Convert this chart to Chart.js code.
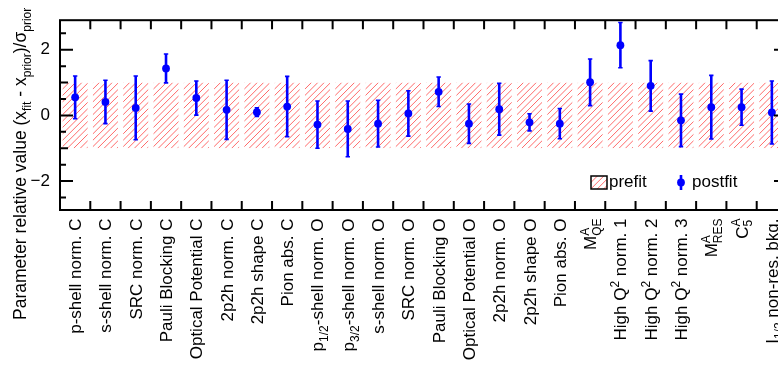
<!DOCTYPE html>
<html><head><meta charset="utf-8">
<style>
html,body{margin:0;padding:0;overflow:hidden;background:#fff;width:778px;height:366px}
#wrap{width:800px;height:366px;position:relative}
canvas{display:block}
</style>
<script src="https://cdn.jsdelivr.net/npm/chart.js@4.4.1/dist/chart.umd.min.js"></script>
</head><body><div id="wrap"><canvas id="c" width="800" height="366"></canvas></div>
<script>
// ---------- data ----------
const categories = [
  'p-shell norm. C', 's-shell norm. C', 'SRC norm. C', 'Pauli Blocking C',
  'Optical Potential C', '2p2h norm. C', '2p2h shape C', 'Pion abs. C',
  'p_{1/2}-shell norm. O', 'p_{3/2}-shell norm. O', 's-shell norm. O', 'SRC norm. O',
  'Pauli Blocking O', 'Optical Potential O', '2p2h norm. O', '2p2h shape O',
  'Pion abs. O', 'M^{A}_{QE}', 'High Q^{2} norm. 1', 'High Q^{2} norm. 2',
  'High Q^{2} norm. 3', 'M^{A}_{RES}', 'C^{A}_{5}', 'I_{1/2} non-res. bkg.'
];
const prefitCentral = [0,0,0,0,0,0,0,0,0,0,0,0,0,0,0,0,0,0,0,0,0,0,0,0];
const prefitError   = [1,1,1,1,1,1,1,1,1,1,1,1,1,1,1,1,1,1,1,1,1,1,1,1];
const postfitValue = [0.55, 0.41, 0.23, 1.43, 0.53, 0.17, 0.10, 0.27,
                      -0.28, -0.41, -0.25, 0.06, 0.72, -0.25, 0.19, -0.21,
                      -0.25, 1.01, 2.14, 0.90, -0.15, 0.25, 0.25, 0.09];
const postfitError = [0.65, 0.66, 0.97, 0.44, 0.52, 0.90, 0.13, 0.92,
                      0.72, 0.85, 0.71, 0.69, 0.45, 0.60, 0.79, 0.26,
                      0.46, 0.71, 0.69, 0.77, 0.80, 0.97, 0.55, 0.96];
const yTickValues = [-2, 0, 2];
const yMinorTicks = [-2.5, -2, -1.5, -1, -0.5, 0, 0.5, 1, 1.5, 2, 2.5];
const legendLabels = ['prefit', 'postfit'];
const yAxisTitle = 'Parameter relative value (x_{fit} - x_{prior})/\u03c3_{prior}';

// ---------- helpers ----------
const FONT = '"Liberation Sans", Arial, Helvetica, sans-serif';
const BLUE = '#0000ff';
const HATCH = '#ff6a6a';

function parseMarkup(s) {
  const toks = []; let buf = '';
  for (let i = 0; i < s.length; i++) {
    const ch = s[i];
    if ((ch === '_' || ch === '^') && s[i + 1] === '{') {
      if (buf) { toks.push({text: buf, type: 'n'}); buf = ''; }
      const end = s.indexOf('}', i + 2);
      toks.push({text: s.slice(i + 2, end), type: ch === '_' ? 'sub' : 'sup'});
      i = end;
    } else buf += ch;
  }
  if (buf) toks.push({text: buf, type: 'n'});
  return toks;
}
function layoutRich(ctx, s, size) {
  const toks = parseMarkup(s);
  const items = []; let x = 0;
  const small = Math.round(size * 0.7);
  const dyOf = t => t === 'sup' ? -size * 0.42 : size * 0.28;
  for (let i = 0; i < toks.length; i++) {
    const t = toks[i];
    if (t.type === 'n') {
      const f = size + 'px ' + FONT; ctx.font = f;
      items.push({text: t.text, x, dy: 0, font: f});
      x += ctx.measureText(t.text).width;
    } else {
      const f = small + 'px ' + FONT; ctx.font = f;
      let w = ctx.measureText(t.text).width;
      items.push({text: t.text, x, dy: dyOf(t.type), font: f});
      const nx = toks[i + 1];
      if (nx && nx.type !== 'n' && nx.type !== t.type) {
        w = Math.max(w, ctx.measureText(nx.text).width);
        items.push({text: nx.text, x, dy: dyOf(nx.type), font: f});
        i++;
      }
      x += w;
    }
  }
  return {items, width: x};
}
function drawRotated(ctx, lay, px, py, startX, baseY) {
  ctx.save();
  ctx.translate(px, py);
  ctx.rotate(-Math.PI / 2);
  ctx.textAlign = 'left'; ctx.textBaseline = 'alphabetic';
  ctx.fillStyle = '#000';
  for (const it of lay.items) { ctx.font = it.font; ctx.fillText(it.text, startX + it.x, baseY + it.dy); }
  ctx.restore();
}
function hatchRect(ctx, x, y, w, h) {
  ctx.save();
  ctx.beginPath(); ctx.rect(x, y, w, h); ctx.clip();
  ctx.strokeStyle = HATCH; ctx.lineWidth = 1;
  const step = 6.4;
  ctx.beginPath();
  for (let k = -h; k < w + step; k += step) {
    ctx.moveTo(x + k, y + h); ctx.lineTo(x + k + h, y);
  }
  ctx.stroke();
  ctx.restore();
}

const decor = {
  id: 'decor',
  afterDatasetDraw(chart, args) {
    if (args.index !== 0) return;
    const ctx = chart.ctx;
    chart.getDatasetMeta(0).data.forEach(bar => {
      const p = bar.getProps(['x', 'y', 'base', 'width'], true);
      const top = Math.min(p.y, p.base), h = Math.abs(p.base - p.y);
      hatchRect(ctx, p.x - p.width / 2, top, p.width, h);
    });
  },
  beforeDatasetDraw(chart, args) {
    if (args.index !== 1) return;
    const ctx = chart.ctx, xs = chart.scales.x, ys = chart.scales.y;
    ctx.save();
    ctx.strokeStyle = BLUE;
    postfitValue.forEach((v, i) => {
      const x = xs.getPixelForValue(i);
      const yt = ys.getPixelForValue(v + postfitError[i]);
      const yb = ys.getPixelForValue(v - postfitError[i]);
      ctx.lineWidth = 2.6;
      ctx.beginPath(); ctx.moveTo(x, yt); ctx.lineTo(x, yb); ctx.stroke();
      ctx.lineWidth = 1.6;
      ctx.beginPath(); ctx.moveTo(x - 2.2, yt); ctx.lineTo(x + 2.2, yt);
      ctx.moveTo(x - 2.2, yb); ctx.lineTo(x + 2.2, yb); ctx.stroke();
    });
    ctx.restore();
  },
  afterDraw(chart) {
    const ctx = chart.ctx, xs = chart.scales.x, ys = chart.scales.y;
    const a = chart.chartArea;
    ctx.save();
    ctx.strokeStyle = '#000'; ctx.lineWidth = 2;
    ctx.strokeRect(a.left, a.top, a.right - a.left, a.bottom - a.top);
    ctx.beginPath();
    for (let i = 1; i < categories.length; i++) {
      const bx = (xs.getPixelForValue(i - 1) + xs.getPixelForValue(i)) / 2;
      ctx.moveTo(bx, a.top); ctx.lineTo(bx, a.top + 9);
      ctx.moveTo(bx, a.bottom); ctx.lineTo(bx, a.bottom - 9);
    }
    yMinorTicks.forEach(v => {
      const y = ys.getPixelForValue(v);
      const len = (v % 2 === 0) ? 13 : (Number.isInteger(v) ? 8 : 6);
      ctx.moveTo(a.left, y); ctx.lineTo(a.left + len, y);
      ctx.moveTo(a.right, y); ctx.lineTo(a.right - len, y);
    });
    ctx.stroke();

    categories.forEach((lab, i) => {
      const lay = layoutRich(ctx, lab, 17);
      drawRotated(ctx, lay, xs.getPixelForValue(i), a.bottom + 8.5, -lay.width, 6);
    });
    const tl = layoutRich(ctx, yAxisTitle, 17.5);
    drawRotated(ctx, tl, 26, 320, 0, 0);

    // legend
    const lx = 591, ly = 176;
    hatchRect(ctx, lx, ly, 16, 13);
    ctx.lineWidth = 1.5; ctx.strokeStyle = '#000'; ctx.strokeRect(lx, ly, 16, 13);
    ctx.fillStyle = '#000'; ctx.font = '17px ' + FONT;
    ctx.textAlign = 'left'; ctx.textBaseline = 'alphabetic';
    ctx.fillText(legendLabels[0], 609, 187);
    ctx.strokeStyle = BLUE; ctx.lineWidth = 2.6;
    ctx.beginPath(); ctx.moveTo(681, 175); ctx.lineTo(681, 190); ctx.stroke();
    ctx.fillStyle = BLUE; ctx.beginPath(); ctx.arc(681, 182.5, 3.9, 0, Math.PI * 2); ctx.fill();
    ctx.fillStyle = '#000';
    ctx.fillText(legendLabels[1], 692, 187);
    ctx.restore();
  }
};

new Chart(document.getElementById('c').getContext('2d'), {
  data: {
    labels: categories,
    datasets: [
      {
        type: 'bar', label: legendLabels[0],
        data: prefitCentral.map((c, i) => [c - prefitError[i], c + prefitError[i]]),
        backgroundColor: 'rgba(0,0,0,0)', borderWidth: 0,
        barPercentage: 0.825, categoryPercentage: 1, order: 2
      },
      {
        type: 'line', label: legendLabels[1], data: postfitValue,
        showLine: false, pointRadius: 3.9, pointHoverRadius: 3.9,
        pointBackgroundColor: BLUE, pointBorderWidth: 0, order: 1
      }
    ]
  },
  options: {
    responsive: false, animation: false, devicePixelRatio: 1, events: [],
    layout: {padding: {left: 0, right: 13, top: 6, bottom: 0}},
    plugins: {legend: {display: false}, tooltip: {enabled: false}},
    scales: {
      x: {
        type: 'category', offset: true,
        grid: {display: false, drawTicks: false}, border: {display: false},
        ticks: {display: false},
        afterFit(s) { s.height = 156; }
      },
      y: {
        type: 'linear', min: -2.88, max: 2.9,
        grid: {display: false, drawTicks: false}, border: {display: false},
        afterBuildTicks(s) { s.ticks = yTickValues.map(v => ({value: v})); },
        ticks: {
          padding: 10, color: '#000', font: {family: FONT, size: 17},
          callback: v => v < 0 ? '\u2212' + Math.abs(v) : String(v)
        },
        afterFit(s) { s.width = 60; }
      }
    }
  },
  plugins: [decor]
});
</script>
</body></html>
